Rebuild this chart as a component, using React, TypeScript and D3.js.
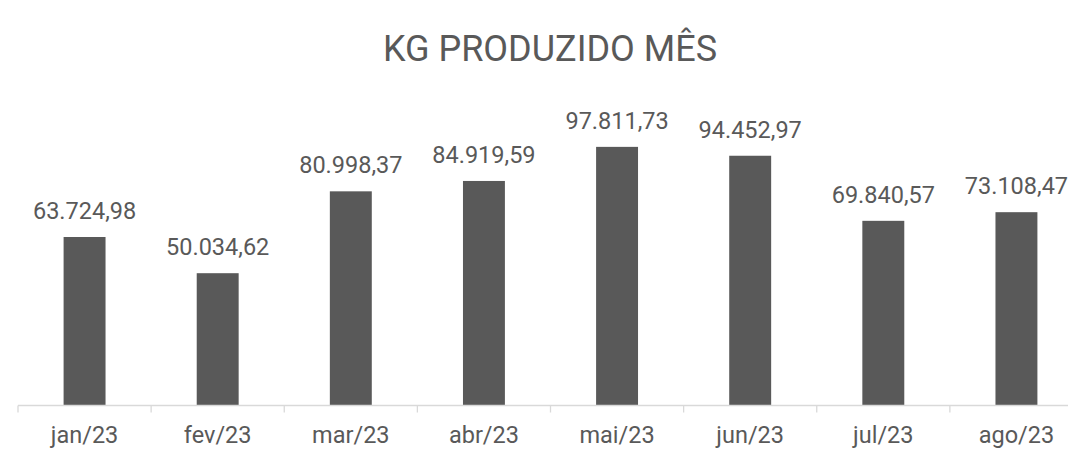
import { useEffect, useRef } from "react";
import * as d3 from "d3";

const months = ["jan/23", "fev/23", "mar/23", "abr/23", "mai/23", "jun/23", "jul/23", "ago/23"];
const kg = [63724.98, 50034.62, 80998.37, 84919.59, 97811.73, 94452.97, 69840.57, 73108.47];
const title = "KG PRODUZIDO MÊS";

const W = 1068;
const H = 449;

export default function App() {
  const svgRef = useRef<SVGSVGElement>(null);

  useEffect(() => {
    if (!svgRef.current) return;
    const svg = d3.select(svgRef.current);
    svg.selectAll("*").remove();

    const font = "Roboto, sans-serif";
    const grey = "#595959";
    const baseY = 405.5;

    // the plot area goes a bit past the right edge, like the original
    const x = d3.scaleBand<string>().domain(months).range([18, 1083]).paddingInner(0.685).paddingOuter(0.3425);
    const y = d3.scaleLinear().domain([0, 120000]).range([baseY, 88.2]);

    const fmt = d3.formatLocale({
      decimal: ",",
      thousands: ".",
      grouping: [3],
      currency: ["R$", ""],
    }).format(",.2f");

    svg
      .append("text")
      .attr("x", 550)
      .attr("y", 61)
      .attr("text-anchor", "middle")
      .attr("font-family", font)
      .attr("font-size", 36)
      .attr("fill", grey)
      .text(title);

    // bars
    svg
      .append("g")
      .selectAll("rect")
      .data(kg)
      .join("rect")
      .attr("x", (_, i) => x(months[i])!)
      .attr("y", (d) => y(d))
      .attr("width", x.bandwidth())
      .attr("height", (d) => baseY - y(d))
      .attr("fill", grey);

    // value labels
    svg
      .append("g")
      .selectAll("text")
      .data(kg)
      .join("text")
      .attr("x", (_, i) => x(months[i])! + x.bandwidth() / 2)
      .attr("y", (d) => y(d) - 18)
      .attr("text-anchor", "middle")
      .attr("font-family", font)
      .attr("font-size", 23.5)
      .attr("fill", grey)
      .text((d) => fmt(d));

    // x axis
    const axis = svg.append("g");
    axis
      .append("line")
      .attr("x1", 18)
      .attr("x2", 1083)
      .attr("y1", baseY)
      .attr("y2", baseY)
      .attr("stroke", "#d9d9d9")
      .attr("stroke-width", 1.3);

    const step = x.step();
    const edges = d3.range(months.length + 1).map((i) => 18 + i * step);
    axis
      .selectAll("line.tick")
      .data(edges)
      .join("line")
      .attr("class", "tick")
      .attr("x1", (d) => d)
      .attr("x2", (d) => d)
      .attr("y1", baseY)
      .attr("y2", baseY + 7)
      .attr("stroke", "#d9d9d9")
      .attr("stroke-width", 1.3);

    axis
      .selectAll("text")
      .data(months)
      .join("text")
      .attr("x", (d) => x(d)! + x.bandwidth() / 2)
      .attr("y", 443)
      .attr("text-anchor", "middle")
      .attr("font-family", font)
      .attr("font-size", 23.5)
      .attr("fill", grey)
      .text((d) => d);
  }, []);

  return (
    <svg
      ref={svgRef}
      width={W}
      height={H}
      style={{ position: "fixed", left: 0, top: 0, background: "#fff", display: "block" }}
    />
  );
}
